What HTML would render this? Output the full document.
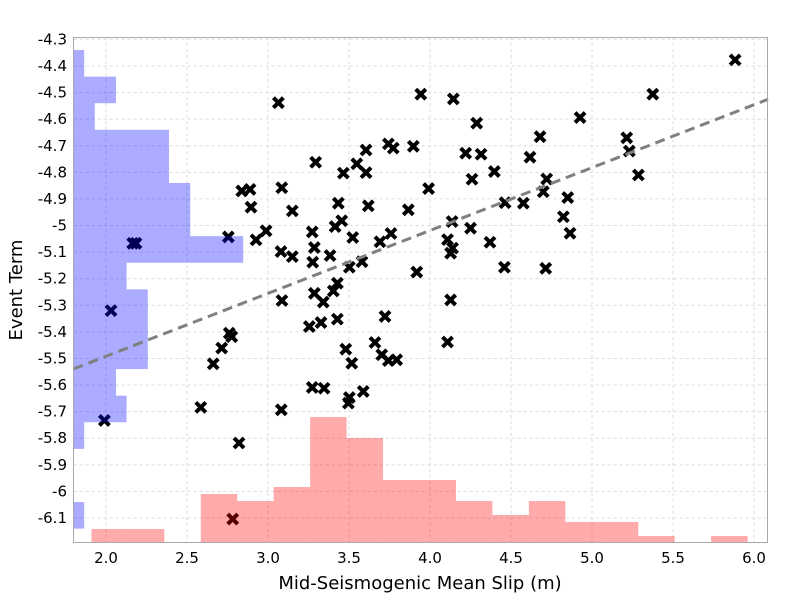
<!DOCTYPE html>
<html><head><meta charset="utf-8"><style>
html,body{margin:0;padding:0;background:#fff;}
svg{display:block;font-family:"DejaVu Sans","Liberation Sans",sans-serif;}
</style></head><body>
<svg id="chart" width="800" height="600" viewBox="0 0 800 600" xmlns="http://www.w3.org/2000/svg">
<rect width="800" height="600" fill="#fff"/>
<g id="grid"></g>
<g id="points"></g>
<g id="hists"></g>
<g id="trend"></g>
<rect x="73.5" y="37.5" width="694" height="505" fill="none" stroke="#aaa" stroke-width="1"/>
<g id="xticks"></g>
<g id="yticks"></g>
<text x="420" y="589" font-size="18" text-anchor="middle" fill="#000">Mid-Seismogenic Mean Slip (m)</text>
<text transform="translate(22,290) rotate(-90)" font-size="18" text-anchor="middle" fill="#000">Event Term</text>
</svg>
<script>
const xVals = [3.064,3.294,3.605,3.743,3.773,3.548,3.465,3.605,2.838,2.889,3.085,2.895,3.15,3.434,3.619,2.755,2.926,2.988,3.273,3.414,3.455,3.523,3.691,3.759,3.080,3.150,3.286,3.276,3.383,3.502,3.580,3.086,3.286,3.341,3.403,3.428,3.722,3.255,3.327,3.428,2.761,2.776,2.714,2.662,3.480,3.517,3.660,3.702,3.743,3.794,3.273,3.346,3.502,3.496,3.588,2.585,3.082,2.165,2.185,2.031,1.990,2.821,2.782,5.883,3.943,4.144,5.375,4.288,4.926,3.897,4.679,4.220,4.315,4.617,5.214,5.230,4.397,4.259,5.286,3.991,4.720,4.699,3.866,4.463,4.576,4.850,4.823,4.864,4.136,4.250,4.108,4.139,4.127,4.370,3.918,4.459,4.714,4.127,4.108];
const yVals = [-4.538,-4.762,-4.716,-4.693,-4.709,-4.768,-4.803,-4.801,-4.870,-4.864,-4.858,-4.931,-4.945,-4.916,-4.926,-5.043,-5.054,-5.020,-5.024,-5.004,-4.982,-5.045,-5.061,-5.030,-5.098,-5.117,-5.083,-5.138,-5.113,-5.157,-5.136,-5.282,-5.255,-5.288,-5.246,-5.217,-5.342,-5.380,-5.365,-5.352,-5.405,-5.418,-5.461,-5.520,-5.465,-5.518,-5.440,-5.486,-5.508,-5.505,-5.609,-5.612,-5.647,-5.668,-5.624,-5.684,-5.693,-5.067,-5.067,-5.320,-5.733,-5.818,-6.104,-4.377,-4.506,-4.524,-4.506,-4.615,-4.594,-4.702,-4.666,-4.728,-4.732,-4.743,-4.670,-4.720,-4.797,-4.826,-4.810,-4.861,-4.825,-4.873,-4.941,-4.914,-4.916,-4.895,-4.967,-5.029,-4.985,-5.010,-5.053,-5.085,-5.104,-5.063,-5.175,-5.157,-5.161,-5.280,-5.438];
const xTicks = [2.0,2.5,3.0,3.5,4.0,4.5,5.0,5.5,6.0];
const xTickLabels = ["2.0","2.5","3.0","3.5","4.0","4.5","5.0","5.5","6.0"];
const yTicks = [-4.3,-4.4,-4.5,-4.6,-4.7,-4.8,-4.9,-5.0,-5.1,-5.2,-5.3,-5.4,-5.5,-5.6,-5.7,-5.8,-5.9,-6.0,-6.1];
const yTickLabels = ["-4.3","-4.4","-4.5","-4.6","-4.7","-4.8","-4.9","-5","-5.1","-5.2","-5.3","-5.4","-5.5","-5.6","-5.7","-5.8","-5.9","-6","-6.1"];
const xBinStart = 1.91;
const xBinWidth = 0.225;
const xHistCounts = [2,2,0,7,6,8,18,15,9,9,6,4,6,3,3,1,0,1];
const yBinStart = -4.34;
const yBinWidth = 0.1;
const yHistCounts = [1,4,2,9,9,11,11,16,5,7,7,7,4,5,1,0,0,1];
const trendX = [1.8, 6.086];
const trendIntercept = -5.539;
const trendSlope = 0.2365;

const X0=73.6, X1=768, Y0=37, Y1=543;
const xMin=1.8, xMax=6.086, yMin=-6.194, yMax=-4.291;
const sx = v => X0 + (v-xMin)/(xMax-xMin)*(X1-X0);
const sy = v => Y1 - (v-yMin)/(yMax-yMin)*(Y1-Y0);
const redUnit = 7, blueUnit = 10.6;
const NS="http://www.w3.org/2000/svg";
function mk(tag, parent, attrs){const e=document.createElementNS(NS,tag);for(const k in attrs)e.setAttribute(k,attrs[k]);parent.appendChild(e);return e;}

const grid=document.getElementById('grid');
xTicks.forEach((t,i)=>{
  const l=mk('line',grid,{x1:sx(t),x2:sx(t),y1:Y0,y2:Y1,stroke:'#dcdcdc','stroke-dasharray':'3,3'});
  
  
  const tx=mk('text',document.getElementById('xticks'),{x:sx(t),y:563,'font-size':15,'text-anchor':'middle',fill:'#000'});
  tx.textContent=xTickLabels[i];
  
  
});
yTicks.forEach((t,i)=>{
  const l=mk('line',grid,{x1:X0,x2:X1,y1:sy(t),y2:sy(t),stroke:'#dcdcdc','stroke-dasharray':'3,3'});
  
  
  const tx=mk('text',document.getElementById('yticks'),{x:67,y:sy(t)+5,'font-size':15,'text-anchor':'end',fill:'#000'});
  tx.textContent=yTickLabels[i];
  
  
});

const pts=document.getElementById('points');
xVals.forEach((xv,i)=>{
  const cx=sx(xv), cy=sy(yVals[i]), r=5;
  const g=mk('g',pts,{});
  
  
  mk('path',g,{d:`M${cx-r},${cy-r}L${cx+r},${cy+r}M${cx-r},${cy+r}L${cx+r},${cy-r}`,stroke:'#000','stroke-width':4});
});

const hists=document.getElementById('hists');
xHistCounts.forEach((c,i)=>{
  if(!c) return;
  const a=sx(xBinStart+i*xBinWidth), b=sx(xBinStart+(i+1)*xBinWidth);
  const r=mk('rect',hists,{x:a,y:Y1-c*redUnit,width:b-a,height:c*redUnit,fill:'rgb(255,0,0)','fill-opacity':0.33});
  
  
});
yHistCounts.forEach((c,i)=>{
  if(!c) return;
  const top=sy(yBinStart-i*yBinWidth), bot=sy(yBinStart-(i+1)*yBinWidth);
  const r=mk('rect',hists,{x:X0,y:top,width:c*blueUnit,height:bot-top,fill:'rgb(0,0,255)','fill-opacity':0.33});
  
  
});

const tr=document.getElementById('trend');
const tl=mk('line',tr,{x1:sx(trendX[0]),y1:sy(trendIntercept),x2:sx(trendX[1]),y2:sy(trendIntercept+trendSlope*(trendX[1]-trendX[0])),stroke:'#808080','stroke-width':3,'stroke-dasharray':'10,6'});


</script>
</body></html>
